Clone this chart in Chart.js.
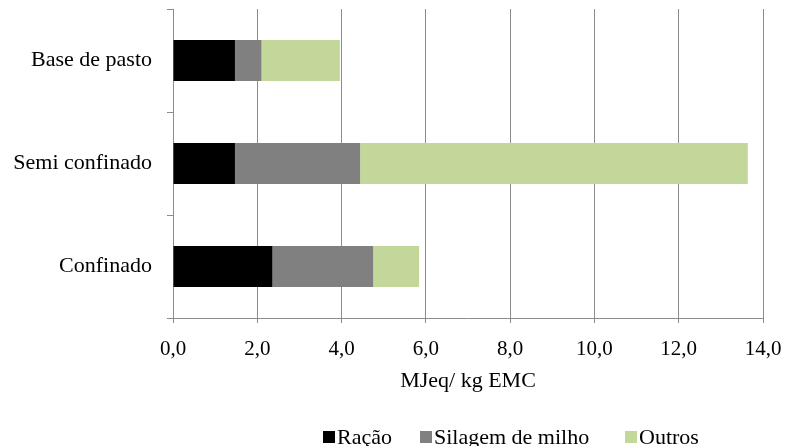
<!DOCTYPE html>
<html>
<head>
<meta charset="utf-8">
<script src="https://cdn.jsdelivr.net/npm/chart.js@4"></script>
<style>
  html, body { margin: 0; padding: 0; background: #ffffff; }
  canvas { display: block; }
</style>
</head>
<body>
<canvas id="chart" width="787" height="446"></canvas>
<script>
// Energy use per system, split by source (MJeq per kg EMC)
const categories = ['Base de pasto', 'Semi confinado', 'Confinado'];
const racao = [1.47, 1.47, 2.36];
const silagemDeMilho = [0.63, 2.97, 2.39];
const outros = [1.86, 9.20, 1.09];
const seriesNames = ['Ração', 'Silagem de milho', 'Outros'];
const xMin = 0, xMax = 14, xStep = 2;
const axisTitle = 'MJeq/ kg EMC';

const FONT = '"Liberation Serif", "Times New Roman", serif';
const GRID = '#8c8c8c';

// Legend row drawn under the axis title
const bottomLegend = {
  id: 'bottomLegend',
  afterDraw(chart) {
    const ctx = chart.ctx;
    const slotX = [323, 420, 625];
    const baseline = 444;
    const box = 12;
    ctx.save();
    ctx.font = '22px ' + FONT;
    ctx.textBaseline = 'alphabetic';
    ctx.textAlign = 'left';
    chart.data.datasets.forEach((ds, i) => {
      ctx.fillStyle = ds.backgroundColor;
      ctx.fillRect(slotX[i], baseline - box - 1, box, box);
      ctx.fillStyle = '#000000';
      ctx.fillText(ds.label, slotX[i] + box + 2, baseline);
    });
    ctx.restore();
  }
};

const colors = ['#000000', '#808080', '#c4d79b'];
const values = [racao, silagemDeMilho, outros];

new Chart(document.getElementById('chart'), {
  type: 'bar',
  data: {
    labels: categories,
    datasets: seriesNames.map((name, i) => ({
      label: name,
      data: values[i],
      backgroundColor: colors[i],
      borderWidth: 0,
      barPercentage: 0.4,
      categoryPercentage: 1.0
    }))
  },
  options: {
    indexAxis: 'y',
    responsive: false,
    animation: false,
    layout: { padding: { top: 9, right: 24, bottom: 52, left: 0 } },
    plugins: {
      legend: { display: false },
      tooltip: { enabled: false }
    },
    scales: {
      x: {
        stacked: true,
        min: xMin,
        max: xMax,
        grid: { color: GRID, tickLength: 5 },
        border: { color: GRID },
        ticks: {
          stepSize: xStep,
          maxRotation: 0,
          padding: 14,
          color: '#000000',
          font: { family: FONT, size: 21 },
          callback: v => Number(v).toFixed(1).replace('.', ',')
        },
        title: {
          display: true,
          text: axisTitle,
          color: '#000000',
          font: { family: FONT, size: 22 },
          padding: { top: 0, bottom: 0 }
        },
        afterFit(scale) {
          scale.height = 76;
          scale.paddingLeft = 0;
          scale.paddingRight = 0;
        }
      },
      y: {
        stacked: true,
        grid: { drawOnChartArea: false, color: GRID, tickLength: 6, offset: true },
        border: { color: GRID },
        ticks: {
          padding: 15,
          color: '#000000',
          font: { family: FONT, size: 22 }
        },
        afterFit(scale) {
          scale.width = 173;
          scale.paddingTop = 0;
          scale.paddingBottom = 0;
        }
      }
    }
  },
  plugins: [bottomLegend]
});
</script>
</body>
</html>
